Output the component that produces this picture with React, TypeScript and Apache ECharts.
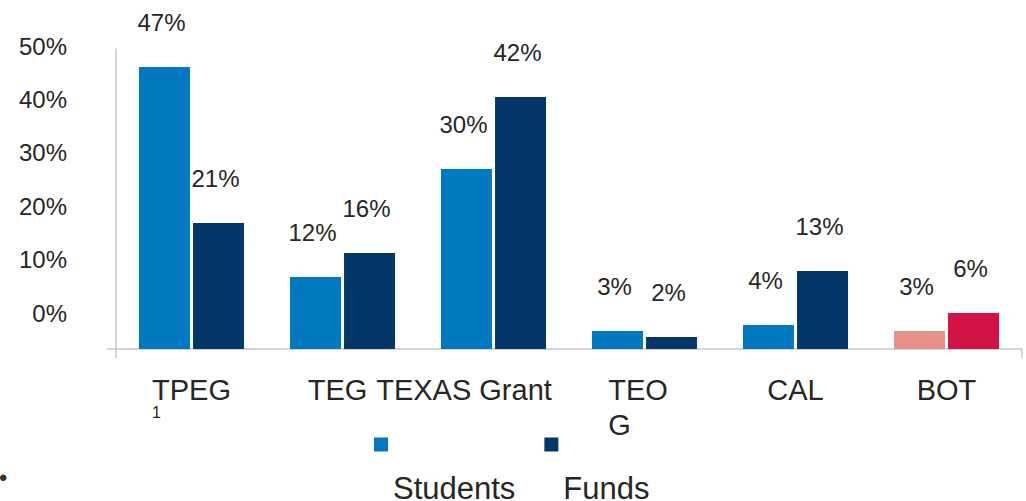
import React, { useEffect, useRef } from "react";
import * as echarts from "echarts";

const categories = ["TPEG", "TEG", "TEXAS Grant", "TEOG", "CAL", "BOT"];
const studentsPct = [47, 12, 30, 3, 4, 3];
const fundsPct = [21, 16, 42, 2, 13, 6];
const yTickValues = [0, 10, 20, 30, 40, 50];
const seriesNames = ["Students", "Funds"];
const highlightCategory = "BOT";

const FONT = "'Liberation Sans', Arial, sans-serif";
const TEXT = "#262626";
const AXIS = "#C8C8C8";
const BLUE = "#0079C1";
const NAVY = "#033767";
const PINK = "#E8908A";
const CRIMSON = "#D31245";

export default function App() {
  const ref = useRef<HTMLDivElement>(null);

  useEffect(() => {
    if (!ref.current) return;
    const chart = echarts.init(ref.current, undefined, { renderer: "svg" });

    const labelCommon = {
      show: true,
      position: "top",
      distance: 33,
      offset: [-3, 0],
      formatter: "{c}%",
      fontSize: 24,
      lineHeight: 24,
      color: TEXT,
      fontFamily: FONT,
    };

    const xLabelFormatter = (v: string) => {
      if (v === "TPEG") return "{n|TPEG}\n{sub|1}";
      if (v === "TEG") return "{teg|TEG}";
      if (v === "TEXAS Grant") return "{tx|TEXAS Grant}";
      if (v === "TEOG") return "{teo|TEO}\n{g|G}";
      return "{n|" + v + "}";
    };

    chart.setOption({
      animation: false,
      textStyle: { fontFamily: FONT },
      grid: [
        { left: 116, right: 4, top: 49, bottom: 152 },
        { left: 116, right: 4, top: 46, bottom: 188 },
      ],
      legend: {
        left: 374,
        top: 385,
        padding: 0,
        orient: "horizontal",
        icon: "rect",
        itemWidth: 14,
        itemHeight: 14,
        itemGap: 29,
        data: [
          { name: seriesNames[0], itemStyle: { color: BLUE } },
          { name: seriesNames[1], itemStyle: { color: NAVY } },
        ],
        formatter: (name: string) => "{t|" + name + "}",
        textStyle: {
          color: TEXT,
          fontFamily: FONT,
          rich: {
            t: { fontSize: 31, lineHeight: 31, padding: [88, 0, 0, 0], color: TEXT, fontFamily: FONT },
          },
        },
      },
      xAxis: [
        {
          type: "category",
          gridIndex: 0,
          data: categories,
          axisLine: { show: true, lineStyle: { color: AXIS, width: 1.5 } },
          axisTick: {
            show: true,
            length: 9,
            interval: (i: number) => i === 0,
            lineStyle: { color: AXIS, width: 1.5 },
          },
          axisLabel: {
            interval: 0,
            margin: 26,
            color: TEXT,
            fontFamily: FONT,
            fontSize: 29,
            lineHeight: 30,
            formatter: xLabelFormatter,
            rich: {
              n: { fontSize: 29, lineHeight: 30, color: TEXT, fontFamily: FONT },
              sub: { fontSize: 16, lineHeight: 14, align: "left", color: TEXT, fontFamily: FONT },
              teg: { fontSize: 29, lineHeight: 30, padding: [0, 10, 0, 0], color: TEXT, fontFamily: FONT },
              tx: { fontSize: 29, lineHeight: 30, padding: [0, 59, 0, 0], color: TEXT, fontFamily: FONT },
              teo: { fontSize: 29, lineHeight: 30, padding: [0, 13, 0, 0], color: TEXT, fontFamily: FONT },
              g: { fontSize: 29, lineHeight: 40, align: "left", color: TEXT, fontFamily: FONT },
            },
          },
        },
        {
          type: "category",
          gridIndex: 1,
          data: categories,
          show: false,
        },
      ],
      yAxis: [
        {
          type: "value",
          gridIndex: 0,
          min: 0,
          max: 50,
          axisLine: { show: true, lineStyle: { color: AXIS, width: 1.5 } },
          axisTick: { show: true, length: 9, customValues: [0], lineStyle: { color: AXIS, width: 1.5 } },
          axisLabel: { show: false },
          splitLine: { show: false },
        },
        {
          type: "value",
          gridIndex: 1,
          min: yTickValues[0],
          max: yTickValues[yTickValues.length - 1],
          interval: 10,
          axisLine: { show: false },
          axisTick: { show: false },
          splitLine: { show: false },
          axisLabel: {
            show: true,
            margin: 49,
            formatter: "{value}%",
            fontSize: 24,
            color: TEXT,
            fontFamily: FONT,
          },
        },
      ],
      graphic: [
        {
          type: "text",
          left: -1,
          top: 465,
          style: { text: "•", fontSize: 24, fill: "#333", fontFamily: FONT },
        },
      ],
      series: [
        {
          name: seriesNames[0],
          type: "bar",
          xAxisIndex: 0,
          yAxisIndex: 0,
          data: studentsPct,
          barWidth: 51,
          barGap: "6%",
          itemStyle: {
            color: (p: any) => (p.name === highlightCategory ? PINK : BLUE),
          },
          label: labelCommon,
        },
        {
          name: seriesNames[1],
          type: "bar",
          xAxisIndex: 0,
          yAxisIndex: 0,
          data: fundsPct,
          barWidth: 51,
          barGap: "6%",
          itemStyle: {
            color: (p: any) => (p.name === highlightCategory ? CRIMSON : NAVY),
          },
          label: labelCommon,
        },
      ],
    });

    return () => chart.dispose();
  }, []);

  return (
    <div
      ref={ref}
      style={{ position: "fixed", left: 0, top: 0, width: 1026, height: 501, background: "#fff" }}
    />
  );
}
